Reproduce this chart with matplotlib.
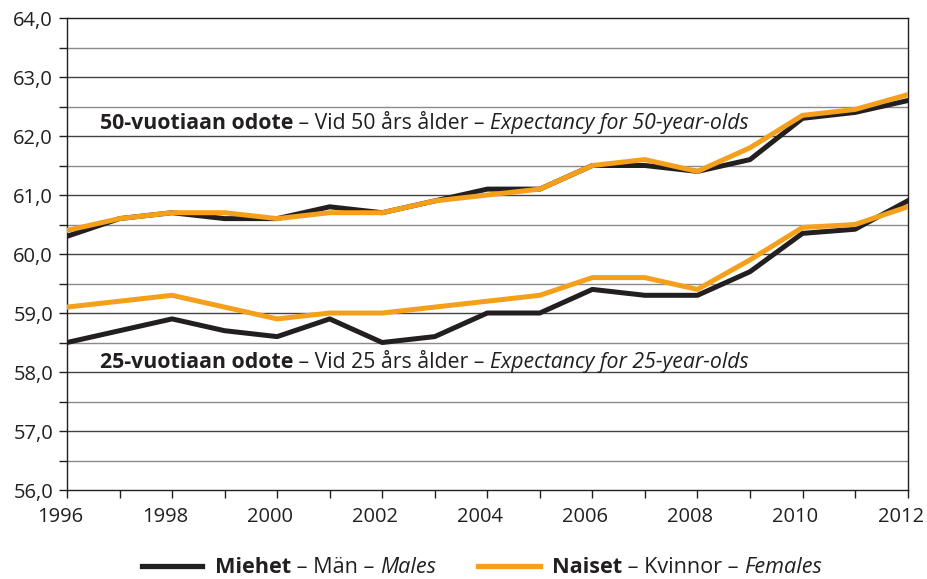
import matplotlib
matplotlib.use("Agg")
import matplotlib.pyplot as plt
import matplotlib.transforms as mtransforms
from matplotlib.ticker import FuncFormatter, MultipleLocator
from matplotlib.lines import Line2D
from matplotlib.text import Annotation

plt.rcParams['font.family'] = ['Open Sans', 'DejaVu Sans']

years = list(range(1996, 2013))
males_50 = [60.3, 60.6, 60.7, 60.6, 60.6, 60.8, 60.7, 60.9, 61.1, 61.1, 61.5, 61.5, 61.4, 61.6, 62.3, 62.4, 62.6]
females_50 = [60.4, 60.6, 60.7, 60.7, 60.6, 60.7, 60.7, 60.9, 61.0, 61.1, 61.5, 61.6, 61.4, 61.8, 62.35, 62.45, 62.7]
males_25 = [58.5, 58.7, 58.9, 58.7, 58.6, 58.9, 58.5, 58.6, 59.0, 59.0, 59.4, 59.3, 59.3, 59.7, 60.35, 60.42, 60.9]
females_25 = [59.1, 59.2, 59.3, 59.1, 58.9, 59.0, 59.0, 59.1, 59.2, 59.3, 59.6, 59.6, 59.4, 59.9, 60.45, 60.5, 60.8]

BLACK = '#231f20'
ORANGE = '#f5a01a'

fig = plt.figure(figsize=(9.28, 5.79), dpi=100)
ax = fig.add_axes([0.0722, 0.1537, 0.9058, 0.8152])

ax.set_xlim(1996, 2012)
ax.set_ylim(56, 64)

for v in [x * 0.5 + 56 for x in range(1, 16)]:
    col = '#444444' if v == int(v) else '#8a8a8a'
    ax.axhline(v, color=col, lw=1.0, zorder=1)

ax.plot(years, males_50, color=BLACK, lw=3.6, zorder=3)
ax.plot(years, males_25, color=BLACK, lw=3.6, zorder=3)
ax.plot(years, females_50, color=ORANGE, lw=3.6, zorder=4)
ax.plot(years, females_25, color=ORANGE, lw=3.6, zorder=4)

for s in ['left', 'right', 'top', 'bottom']:
    ax.spines[s].set_color(BLACK)
    ax.spines[s].set_linewidth(1.0)

ax.yaxis.set_major_locator(MultipleLocator(1))
ax.yaxis.set_minor_locator(MultipleLocator(0.5))
ax.yaxis.set_major_formatter(FuncFormatter(lambda v, p: f"{v:.1f}".replace('.', ',')))
ax.xaxis.set_major_locator(MultipleLocator(2))
ax.xaxis.set_minor_locator(MultipleLocator(1))
ax.tick_params(axis='both', which='both', direction='out', length=6, width=1, color=BLACK,
               labelsize=14.5, labelcolor=BLACK)
ax.tick_params(axis='y', which='major', pad=4)
ax.tick_params(axis='x', which='major', pad=6)

offset = mtransforms.ScaledTranslation(-7/100, 0, fig.dpi_scale_trans)
for lbl in ax.get_xticklabels():
    lbl.set_transform(lbl.get_transform() + offset)

SIZE = 15.3

def concat(parts, x, y, size=SIZE):
    prev = None
    for txt, weight, style in parts:
        if prev is None:
            prev = ax.text(x, y, txt, transform=ax.transData, fontsize=size, fontweight=weight,
                           fontstyle=style, color=BLACK, va='baseline', ha='left', zorder=5)
        else:
            prev = ax.annotate(txt, xy=(1, 0), xycoords=prev, fontsize=size, fontweight=weight,
                               fontstyle=style, color=BLACK, va='bottom', ha='left', zorder=5)
    return prev

concat([("50-vuotiaan odote", 'bold', 'normal'),
        (" – Vid 50 års ålder – ", 'normal', 'normal'),
        ("Expectancy for 50-year-olds", 'normal', 'italic')],
       1996.63, 62.12)
concat([("25-vuotiaan odote", 'bold', 'normal'),
        (" – Vid 25 års ålder – ", 'normal', 'normal'),
        ("Expectancy for 25-year-olds", 'normal', 'italic')],
       1996.63, 58.07)

fig.add_artist(Line2D([142/928, 202/928], [1-566/579, 1-566/579], color=BLACK, lw=3.8))
fig.add_artist(Line2D([478/928, 540/928], [1-566/579, 1-566/579], color=ORANGE, lw=3.8))

def fconcat(parts, x, y, size=15.6):
    prev = None
    for txt, weight, style in parts:
        if prev is None:
            prev = fig.text(x, y, txt, fontsize=size, fontweight=weight, fontstyle=style,
                            color=BLACK, va='baseline', ha='left')
        else:
            prev = fig.add_artist(Annotation(txt, xy=(1, 0), xycoords=prev, fontsize=size,
                                  fontweight=weight, fontstyle=style, color=BLACK, va='bottom', ha='left'))
    return prev

fconcat([("Miehet", 'bold', 'normal'), (" – Män – ", 'normal', 'normal'), ("Males", 'normal', 'italic')],
        215/928, 1-573/579)
fconcat([("Naiset", 'bold', 'normal'), (" – Kvinnor – ", 'normal', 'normal'), ("Females", 'normal', 'italic')],
        552/928, 1-573/579)

fig.savefig('out.png', dpi=100)
